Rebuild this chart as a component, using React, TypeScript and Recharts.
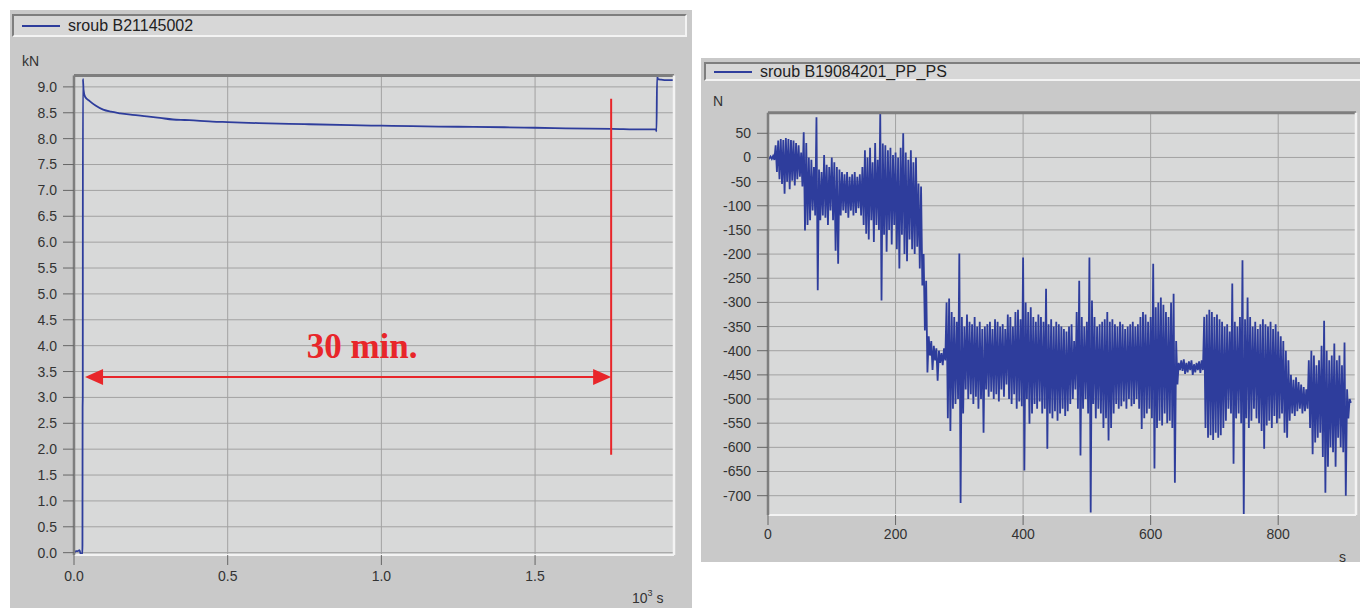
import React from 'react';
import { LineChart, Line, XAxis, YAxis, CartesianGrid, ReferenceLine } from 'recharts';

// ---------- left panel: clamp force (kN) vs time (10^3 s) ----------
const leftSeriesName = 'sroub B21145002';
const clampTime = [
  0, 0.006, 0.012, 0.018, 0.022, 0.027, 0.0275, 0.028, 0.0285, 0.029, 0.031, 0.036,
  0.052, 0.07, 0.095, 0.12, 0.15, 0.19, 0.237, 0.28, 0.322, 0.36, 0.4, 0.45, 0.5, 0.6, 0.75, 0.9,
  1.0, 1.1, 1.25, 1.4, 1.5, 1.6, 1.75, 1.85, 1.893, 1.895, 1.897, 1.9, 1.91, 1.93, 1.952,
];
const clampForce = [
  -0.02, 0.03, 0.03, 0.05, -0.03, -0.03, 0.15, 2.8, 3.0, 9.16, 8.95, 8.81,
  8.72, 8.64, 8.56, 8.52, 8.49, 8.46, 8.43, 8.4, 8.37, 8.36, 8.35, 8.33, 8.32, 8.3, 8.28, 8.26,
  8.25, 8.24, 8.23, 8.22, 8.21, 8.2, 8.19, 8.18, 8.18, 8.14, 9.2, 9.15, 9.14, 9.13, 9.13,
];
const leftXDomain = [0, 1.952];
const leftYDomain = [-0.045, 9.22];
const leftXTicks = [0, 0.5, 1.0, 1.5];
const leftYTicks = [0, 0.5, 1, 1.5, 2, 2.5, 3, 3.5, 4, 4.5, 5, 5.5, 6, 6.5, 7, 7.5, 8, 8.5, 9];

// annotation
const arrowStart = 0.036;
const arrowEnd = 1.7475;
const arrowLevel = 3.395;
const markTime = 1.7475;
const markLow = 1.89;
const markHigh = 8.77;
const arrowLabel = '30 min.';

// ---------- right panel: force (N) vs time (s) ----------
const rightSeriesName = 'sroub B19084201_PP_PS';
const sampleStep = 4; // seconds between envelope samples
const envHigh = [
  0, 2, 3, 25, 35, 38, 36, 40, 38, 36,
  35, 30, 25, 10, 52, 30, 0, -5, -20, 83,
  -25, -30, 5, -15, -20, 0, -10, -20, -25, -30,
  -35, -30, -40, -35, -30, -40, -35, -20, 15, 0,
  20, -10, 30, -5, 91, 29, 25, 15, 20, 5,
  10, 0, 20, 50, 10, -5, 15, -10, 0, -54,
  -60, -200, -255, -370, -380, -390, -395, -400, -405, -395,
  -300, -292, -320, -330, -340, -199, -330, -350, -325, -340,
  -345, -330, -350, -340, -355, -350, -345, -340, -355, -335,
  -340, -350, -345, -355, -325, -330, -350, -320, -315, -335,
  -207, -300, -320, -310, -330, -340, -325, -330, -340, -272,
  -345, -335, -350, -340, -345, -350, -355, -360, -350, -345,
  -380, -320, -255, -330, -350, -340, -207, -296, -330, -350,
  -345, -340, -335, -320, -340, -335, -345, -350, -340, -345,
  -355, -350, -345, -340, -350, -345, -330, -320, -325, -340,
  -330, -220, -310, -300, -290, -305, -320, -330, -300, -282,
  -380, -425, -420, -418, -425, -422, -420, -428, -425, -422,
  -420, -330, -325, -315, -320, -330, -325, -335, -340, -350,
  -345, -360, -261, -340, -350, -330, -213, -335, -290, -330,
  -350, -340, -355, -345, -335, -345, -350, -340, -355, -345,
  -360, -370, -380, -400, -420, -450, -460, -455, -465, -470,
  -475, -480, -420, -400, -410, -430, -420, -390, -338, -400,
  -420, -410, -385, -420, -410, -430, -383, -480, -500,
];
const envLow = [
  -2, -3, -5, -30, -45, -55, -75, -50, -66, -48,
  -58, -45, -40, -60, -151, -140, -130, -110, -120, -275,
  -130, -120, -125, -140, -110, -130, -193, -220, -120, -110,
  -115, -125, -110, -120, -115, -105, -120, -140, -158, -170,
  -130, -175, -140, -150, -296, -160, -195, -150, -180, -140,
  -190, -230, -160, -200, -215, -170, -190, -200, -185, -230,
  -265, -358, -445, -410, -440, -420, -462, -425, -430, -420,
  -540, -566, -520, -510, -500, -715, -530, -480, -500, -490,
  -510, -495, -520, -500, -570, -480, -495, -485, -500, -490,
  -505, -480, -495, -470, -500, -510, -490, -520, -505, -515,
  -648, -500, -551, -530, -510, -520, -505, -530, -520, -603,
  -530, -540, -525, -545, -530, -520, -535, -525, -510, -500,
  -480, -520, -617, -520, -500, -530, -735, -510, -540, -520,
  -530, -560, -540, -586, -560, -530, -510, -520, -515, -505,
  -520, -500, -515, -510, -500, -520, -562, -540, -530, -520,
  -540, -644, -560, -545, -555, -530, -550, -545, -560, -673,
  -470, -440, -442, -448, -445, -440, -450, -445, -440, -446,
  -440, -560, -580, -575, -585, -570, -580, -575, -560, -545,
  -520, -530, -634, -540, -530, -550, -742, -540, -560, -545,
  -520, -540, -550, -566, -603, -555, -545, -560, -535, -550,
  -540, -530, -570, -580, -545, -530, -535, -525, -520, -530,
  -525, -520, -560, -614, -590, -580, -570, -620, -694, -640,
  -600, -610, -640, -580, -600, -610, -700, -540, -508,
];
const rightXDomain = [0, 922];
const rightYDomain = [-740, 92.6];
const rightXTicks = [0, 200, 400, 600, 800];
const rightYTicks = [50, 0, -50, -100, -150, -200, -250, -300, -350, -400, -450, -500, -550, -600, -650, -700];

// ---------- styles ----------
const BLUE = '#2e3d9c';
const RED = '#e8262a';
const PANEL = '#c9c9c9';
const PLOT_BG = '#d8d9d9';
const GRID = '#a2a2a2';
const DARK_EDGE = '#7e7e7e';
const LIGHT_EDGE = '#f3f3f3';
const FONT = "'Liberation Sans', Arial, sans-serif";

const leftData = clampTime.map((t, i) => ({ t, v: clampForce[i] }));
const rightData: { t: number; v: number }[] = [];
envHigh.forEach((h, i) => {
  rightData.push({ t: i * sampleStep, v: h });
  rightData.push({ t: i * sampleStep + sampleStep / 2, v: envLow[i] });
});

const tickStyle = { fill: '#333', fontSize: 14, fontFamily: FONT };

const ArrowShape = (p: any) => {
  const { x1, y1, x2 } = p;
  const left = Math.min(x1, x2);
  const right = Math.max(x1, x2);
  const y = y1;
  const head = 18;
  const half = 8;
  return (
    <g>
      <line x1={left + head - 2} y1={y} x2={right - head + 2} y2={y} stroke={RED} strokeWidth={2} />
      <polygon points={`${left},${y} ${left + head},${y - half} ${left + head},${y + half}`} fill={RED} />
      <polygon points={`${right},${y} ${right - head},${y - half} ${right - head},${y + half}`} fill={RED} />
      <text
        x={(left + right) / 2 + 14}
        y={y - 19}
        textAnchor="middle"
        fill={RED}
        fontSize={35}
        fontWeight="bold"
        fontFamily="'Liberation Serif', 'DejaVu Serif', serif"
      >
        {arrowLabel}
      </text>
    </g>
  );
};

const LegendBox = ({ left, top, width, height, label }: any) => (
  <div
    style={{
      position: 'absolute',
      left,
      top,
      width,
      height,
      boxSizing: 'border-box',
      background: '#d7d7d7',
      borderTop: `2px solid ${DARK_EDGE}`,
      borderLeft: `2px solid ${DARK_EDGE}`,
      borderBottom: `2px solid ${LIGHT_EDGE}`,
      borderRight: `2px solid ${LIGHT_EDGE}`,
      display: 'flex',
      alignItems: 'center',
      fontFamily: FONT,
    }}
  >
    <div style={{ width: 38, height: 2, background: BLUE, marginLeft: 8 }} />
    <span style={{ marginLeft: 8, fontSize: 16, color: '#222', whiteSpace: 'nowrap', lineHeight: 1 }}>{label}</span>
  </div>
);

const textAbs = (left: number, top: number, size = 14): React.CSSProperties => ({
  position: 'absolute',
  left,
  top,
  fontSize: size,
  fontFamily: FONT,
  color: '#333',
  lineHeight: 1,
  whiteSpace: 'nowrap',
});

export default function App() {
  return (
    <div
      style={{
        position: 'absolute',
        left: 0,
        top: 0,
        width: 1360,
        height: 608,
        overflow: 'hidden',
        background: '#fff',
        fontFamily: FONT,
      }}
    >
      {/* left panel */}
      <div style={{ position: 'absolute', left: 10, top: 10, width: 682, height: 598, background: PANEL }} />
      <LegendBox left={12} top={14} width={675} height={23} label={leftSeriesName} />
      <div style={textAbs(22, 54)}>kN</div>
      <div style={textAbs(632, 591)}>
        10<sup style={{ fontSize: 9, verticalAlign: 'top', position: 'relative', top: -2 }}>3</sup> s
      </div>
      <div style={{ position: 'absolute', left: 10, top: 10 }}>
        <LineChart width={682} height={598} data={leftData} margin={{ top: 65.5, right: 18, bottom: 23, left: 10 }}>
          <CartesianGrid stroke={GRID} fill={PLOT_BG} fillOpacity={1} />
          <XAxis
            dataKey="t"
            type="number"
            domain={leftXDomain}
            ticks={leftXTicks}
            tickFormatter={(v: number) => v.toFixed(1)}
            height={30}
            tickSize={10}
            tickMargin={6}
            tick={tickStyle}
            tickLine={{ stroke: '#666' }}
            axisLine={{ stroke: LIGHT_EDGE, strokeWidth: 2 }}
            allowDataOverflow
          />
          <YAxis
            type="number"
            domain={leftYDomain}
            ticks={leftYTicks}
            tickFormatter={(v: number) => v.toFixed(1)}
            width={54}
            tickSize={11}
            tickMargin={6}
            tick={tickStyle}
            tickLine={{ stroke: '#666' }}
            axisLine={{ stroke: DARK_EDGE, strokeWidth: 2.5 }}
            allowDataOverflow
          />
          <Line
            dataKey="v"
            name={leftSeriesName}
            type="monotoneX"
            stroke={BLUE}
            strokeWidth={1.8}
            dot={false}
            isAnimationActive={false}
          />
          <ReferenceLine y={leftYDomain[1]} stroke={DARK_EDGE} strokeWidth={3} />
          <ReferenceLine x={leftXDomain[1]} stroke={LIGHT_EDGE} strokeWidth={2.5} />
          <ReferenceLine
            segment={[
              { x: markTime, y: markLow },
              { x: markTime, y: markHigh },
            ]}
            stroke={RED}
            strokeWidth={2}
          />
          <ReferenceLine
            segment={[
              { x: arrowStart, y: arrowLevel },
              { x: arrowEnd, y: arrowLevel },
            ]}
            shape={ArrowShape}
          />
        </LineChart>
      </div>

      {/* right panel */}
      <div style={{ position: 'absolute', left: 701, top: 58, width: 659, height: 504, background: PANEL }} />
      <LegendBox left={704} top={62} width={670} height={19} label={rightSeriesName} />
      <div style={textAbs(713, 94)}>N</div>
      <div style={textAbs(1339, 550)}>s</div>
      <div style={{ position: 'absolute', left: 701, top: 58 }}>
        <LineChart width={659} height={504} data={rightData} margin={{ top: 54.7, right: 4, bottom: 17, left: 7 }}>
          <CartesianGrid stroke={GRID} fill={PLOT_BG} fillOpacity={1} />
          <XAxis
            dataKey="t"
            type="number"
            domain={rightXDomain}
            ticks={rightXTicks}
            height={30}
            tickSize={10}
            tickMargin={4}
            tick={tickStyle}
            tickLine={{ stroke: '#666' }}
            axisLine={{ stroke: LIGHT_EDGE, strokeWidth: 2 }}
            allowDataOverflow
          />
          <YAxis
            type="number"
            domain={rightYDomain}
            ticks={rightYTicks}
            width={60}
            tickSize={11}
            tickMargin={6}
            tick={tickStyle}
            tickLine={{ stroke: '#666' }}
            axisLine={{ stroke: DARK_EDGE, strokeWidth: 2.5 }}
            allowDataOverflow
          />
          <Line
            dataKey="v"
            name={rightSeriesName}
            type="linear"
            stroke={BLUE}
            strokeWidth={1.8}
            dot={false}
            isAnimationActive={false}
          />
          <ReferenceLine y={rightYDomain[1]} stroke={DARK_EDGE} strokeWidth={3} />
          <ReferenceLine x={rightXDomain[1]} stroke={LIGHT_EDGE} strokeWidth={2.5} />
        </LineChart>
      </div>
    </div>
  );
}
